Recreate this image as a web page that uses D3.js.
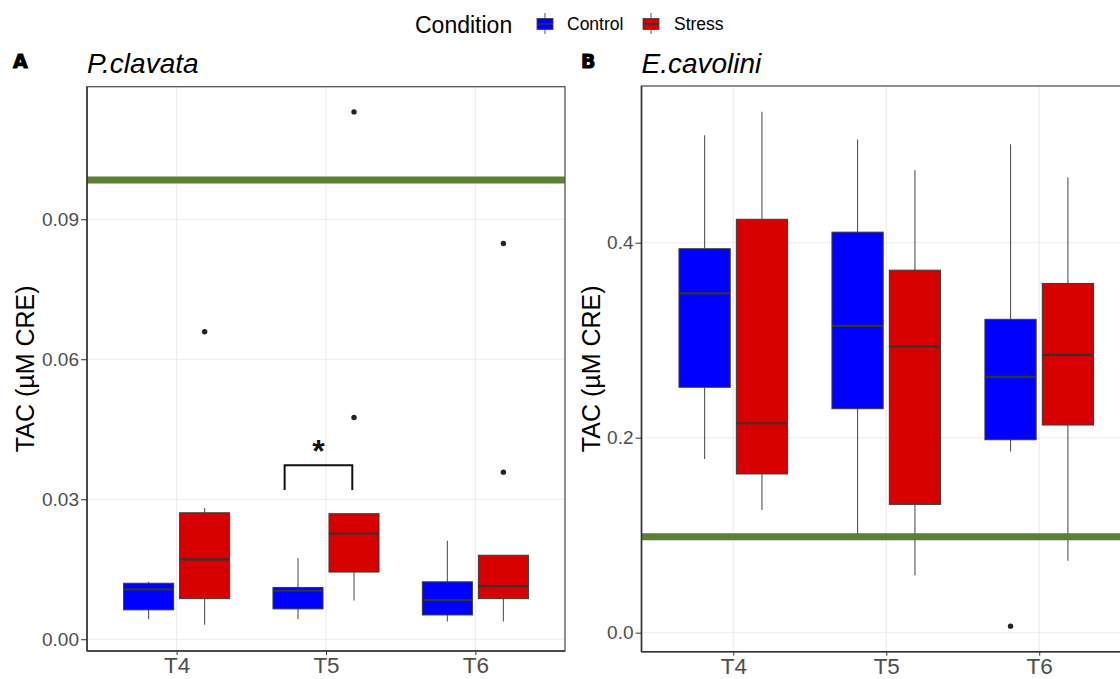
<!DOCTYPE html>
<html>
<head>
<meta charset="utf-8">
<script src="https://cdn.jsdelivr.net/npm/d3@7"></script>
<style>
	body { margin: 0; background: #fff; }
	svg { display: block; font-family: "Liberation Sans", Arial, sans-serif; }
</style>
</head>
<body>
<div id="chart"></div>
<script>
///////////////////////////////////////////////////////////////////////////
//////////////////////////// data /////////////////////////////////////////
///////////////////////////////////////////////////////////////////////////

const timePoints = ["T4", "T5", "T6"];
const conditions = ["Control", "Stress"];
const conditionColors = ["#0000ff", "#d60000"];

// box stats per time point: [lower whisker, Q1, median, Q3, upper whisker]
const pclavataControl = [
	[0.0043, 0.0063, 0.0107, 0.0120, 0.0123],
	[0.0043, 0.0065, 0.0104, 0.0111, 0.0174],
	[0.0038, 0.0052, 0.0084, 0.0123, 0.0211]
];
const pclavataStress = [
	[0.0031, 0.0087, 0.0171, 0.0271, 0.0281],
	[0.0083, 0.0144, 0.0226, 0.0269, 0.0269],
	[0.0038, 0.0087, 0.0114, 0.0180, 0.0180]
];
// outliers: [time, condition, value]
const pclavataOutliers = [
	["T4", "Stress", 0.0659],
	["T5", "Stress", 0.0475],
	["T5", "Stress", 0.1130],
	["T6", "Stress", 0.0358],
	["T6", "Stress", 0.0848]
];

const ecavoliniControl = [
	[0.1782, 0.2517, 0.3481, 0.3938, 0.5101],
	[0.1013, 0.2297, 0.3146, 0.4108, 0.5058],
	[0.1858, 0.1979, 0.2623, 0.3214, 0.5009]
];
const ecavoliniStress = [
	[0.1258, 0.1628, 0.2148, 0.4240, 0.5344],
	[0.0589, 0.1316, 0.2933, 0.3718, 0.4744],
	[0.0737, 0.2130, 0.2850, 0.3582, 0.4669]
];
const ecavoliniOutliers = [["T6", "Control", 0.0067]];

// green reference line (same level in both panels)
const thresholdValue = 0.0984;

const pclavataTicks = [0, 0.03, 0.06, 0.09];
const ecavoliniTicks = [0, 0.2, 0.4];

// significance bracket in panel A
const sigTime = "T5";
const sigLow = 0.032;
const sigHigh = 0.0373;
const sigLabel = "*";

///////////////////////////////////////////////////////////////////////////
//////////////////////////// drawing //////////////////////////////////////
///////////////////////////////////////////////////////////////////////////

const width = 1120;
const height = 679;

const svg = d3.select("#chart").append("svg")
	.attr("width", width)
	.attr("height", height);

const panels = [
	{
		id: "a", tag: "A", title: "P.clavata",
		control: pclavataControl, stress: pclavataStress, outliers: pclavataOutliers,
		ticks: pclavataTicks, fmt: ".2f", yDomain: [-0.00252, 0.1184],
		left: 87, right: 565, top: 86.7, bottom: 651,
		tagX: 13, axisTitleX: 33.5
	},
	{
		id: "b", tag: "B", title: "E.cavolini",
		control: ecavoliniControl, stress: ecavoliniStress, outliers: ecavoliniOutliers,
		ticks: ecavoliniTicks, fmt: ".1f", yDomain: [-0.0195, 0.5607],
		left: 641.5, right: 1131, top: 86, bottom: 651.7,
		tagX: 581, axisTitleX: 599.5
	}
];

const drawPanel = (p) => {
	const xScale = d3.scalePoint()
		.domain(timePoints)
		.range([p.left, p.right])
		.padding(0.6);
	const step = xScale.step();
	const dodge = 0.1875 * step;
	const boxW = 0.335 * step;

	const yScale = d3.scaleLinear()
		.domain(p.yDomain)
		.range([p.bottom, p.top]);

	const g = svg.append("g").attr("class", "panel-" + p.id);

	// clip
	g.append("clipPath").attr("id", "clip-" + p.id)
		.append("rect")
		.attr("x", p.left).attr("y", p.top)
		.attr("width", p.right - p.left).attr("height", p.bottom - p.top);

	const body = g.append("g").attr("clip-path", `url(#clip-${p.id})`);

	//////////////////////////// grid ///////////////////////////////////
	body.selectAll(".hgrid")
		.data(p.ticks)
		.join("line")
		.attr("x1", p.left).attr("x2", p.right)
		.attr("y1", (d) => yScale(d)).attr("y2", (d) => yScale(d))
		.attr("stroke", "#ebebeb").attr("stroke-width", 1.1);

	body.selectAll(".vgrid")
		.data(timePoints)
		.join("line")
		.attr("x1", (d) => xScale(d)).attr("x2", (d) => xScale(d))
		.attr("y1", p.top).attr("y2", p.bottom)
		.attr("stroke", "#ebebeb").attr("stroke-width", 1.1);

	//////////////////////////// boxes //////////////////////////////////
	const boxes = timePoints.flatMap((t, i) =>
		conditions.map((c, j) => ({
			time: t,
			cond: c,
			s: (j === 0 ? p.control : p.stress)[i],
			cx: xScale(t) + (j === 0 ? -dodge : dodge),
			color: conditionColors[j]
		}))
	);

	const bg = body.selectAll(".box").data(boxes).join("g").attr("class", "box");

	bg.append("line")
		.attr("x1", (d) => d.cx).attr("x2", (d) => d.cx)
		.attr("y1", (d) => yScale(d.s[4])).attr("y2", (d) => yScale(d.s[3]))
		.attr("stroke", "#555").attr("stroke-width", 1.1);
	bg.append("line")
		.attr("x1", (d) => d.cx).attr("x2", (d) => d.cx)
		.attr("y1", (d) => yScale(d.s[1])).attr("y2", (d) => yScale(d.s[0]))
		.attr("stroke", "#555").attr("stroke-width", 1.1);

	bg.append("rect")
		.attr("x", (d) => d.cx - boxW / 2)
		.attr("width", boxW)
		.attr("y", (d) => yScale(d.s[3]))
		.attr("height", (d) => yScale(d.s[1]) - yScale(d.s[3]))
		.attr("fill", (d) => d.color)
		.attr("stroke", "#3a3a3a").attr("stroke-width", 1);

	bg.append("line")
		.attr("x1", (d) => d.cx - boxW / 2).attr("x2", (d) => d.cx + boxW / 2)
		.attr("y1", (d) => yScale(d.s[2])).attr("y2", (d) => yScale(d.s[2]))
		.attr("stroke", "#333").attr("stroke-width", 2.2);

	// outliers
	body.selectAll(".outlier")
		.data(p.outliers)
		.join("circle")
		.attr("cx", (d) => xScale(d[0]) + (d[1] === "Control" ? -dodge : dodge))
		.attr("cy", (d) => yScale(d[2]))
		.attr("r", 2.7)
		.attr("fill", "#222");

	// green threshold line
	body.append("line")
		.attr("x1", p.left).attr("x2", p.right)
		.attr("y1", yScale(thresholdValue)).attr("y2", yScale(thresholdValue))
		.attr("stroke", "#5c7f35").attr("stroke-width", 7);

	//////////////////////////// significance ///////////////////////////
	if (p.id === "a") {
		const xl = xScale(sigTime) - 0.277 * step;
		const xr = xScale(sigTime) + 0.176 * step;
		body.append("path")
			.attr("d", `M${xl},${yScale(sigLow)}V${yScale(sigHigh)}H${xr}V${yScale(sigLow)}`)
			.attr("fill", "none")
			.attr("stroke", "#111").attr("stroke-width", 2);
		body.append("text")
			.attr("x", (xl + xr) / 2)
			.attr("y", yScale(sigHigh) - 3)
			.attr("text-anchor", "middle")
			.attr("font-size", 32)
			.attr("font-weight", "bold")
			.attr("fill", "#111")
			.text(sigLabel);
	}

	//////////////////////////// border + axes //////////////////////////
	g.append("rect")
		.attr("x", p.left).attr("y", p.top)
		.attr("width", p.right - p.left).attr("height", p.bottom - p.top)
		.attr("fill", "none")
		.attr("stroke", "#555").attr("stroke-width", 1.3);

	const yAxis = g.append("g")
		.attr("transform", `translate(${p.left},0)`)
		.call(d3.axisLeft(yScale).tickValues(p.ticks).tickSize(6).tickPadding(2)
			.tickFormat(d3.format(p.fmt)));
	yAxis.select(".domain").attr("stroke", "#333").attr("stroke-width", 1.5)
		.attr("d", `M0,${p.top}V${p.bottom}`);
	yAxis.selectAll(".tick line").attr("stroke", "#333");
	yAxis.selectAll(".tick text")
		.attr("fill", "#4d4d4d")
		.attr("font-size", 19)
		.attr("font-family", "Liberation Sans, Arial, sans-serif");

	const xAxis = g.append("g")
		.attr("transform", `translate(0,${p.bottom})`)
		.call(d3.axisBottom(xScale).tickSize(4).tickPadding(2));
	xAxis.select(".domain").attr("stroke", "#333").attr("stroke-width", 1.5)
		.attr("d", `M${p.left},0H${p.right}`);
	xAxis.selectAll(".tick line").attr("stroke", "#333");
	xAxis.selectAll(".tick text")
		.attr("fill", "#4d4d4d")
		.attr("font-size", 22.5)
		.attr("font-family", "Liberation Sans, Arial, sans-serif");

	//////////////////////////// titles /////////////////////////////////
	g.append("text")
		.attr("x", p.tagX).attr("y", 68)
		.attr("font-family", "DejaVu Sans, sans-serif")
		.attr("font-size", 19).attr("font-weight", "bold")
		.attr("fill", "#000")
		.attr("stroke", "#000").attr("stroke-width", 1)
		.text(p.tag);

	g.append("text")
		.attr("x", p.left).attr("y", 72.5)
		.attr("font-size", 28).attr("font-style", "italic")
		.attr("fill", "#000")
		.text(p.title);

	g.append("text")
		.attr("transform", `translate(${p.axisTitleX},${(p.top + p.bottom) / 2}) rotate(-90)`)
		.attr("text-anchor", "middle")
		.attr("font-size", 25)
		.attr("fill", "#000")
		.text("TAC (µM CRE)");
};

panels.forEach(drawPanel);

///////////////////////////////////////////////////////////////////////////
//////////////////////////// legend ///////////////////////////////////////
///////////////////////////////////////////////////////////////////////////

const legend = svg.append("g").attr("class", "legend");

legend.append("text")
	.attr("x", 415).attr("y", 33)
	.attr("font-size", 23)
	.attr("fill", "#000")
	.text("Condition");

const legendX = [545, 651];
const legendItems = legend.selectAll(".item")
	.data(conditions)
	.join("g")
	.attr("class", "item")
	.attr("transform", (d, i) => `translate(${legendX[i]},0)`);

legendItems.append("line")
	.attr("x1", 0).attr("x2", 0).attr("y1", 13).attr("y2", 34)
	.attr("stroke", "#555").attr("stroke-width", 1);
legendItems.append("rect")
	.attr("x", -8).attr("y", 18.5).attr("width", 16).attr("height", 11)
	.attr("fill", (d, i) => conditionColors[i])
	.attr("stroke", "#3a3a3a").attr("stroke-width", 0.8);
legendItems.append("line")
	.attr("x1", -8).attr("x2", 8).attr("y1", 24).attr("y2", 24)
	.attr("stroke", "#333").attr("stroke-width", 1.5);
legendItems.append("text")
	.attr("x", (d, i) => [22, 23][i])
	.attr("y", 29.5)
	.attr("font-size", 17.5)
	.attr("fill", "#000")
	.text((d) => d);
</script>
</body>
</html>
